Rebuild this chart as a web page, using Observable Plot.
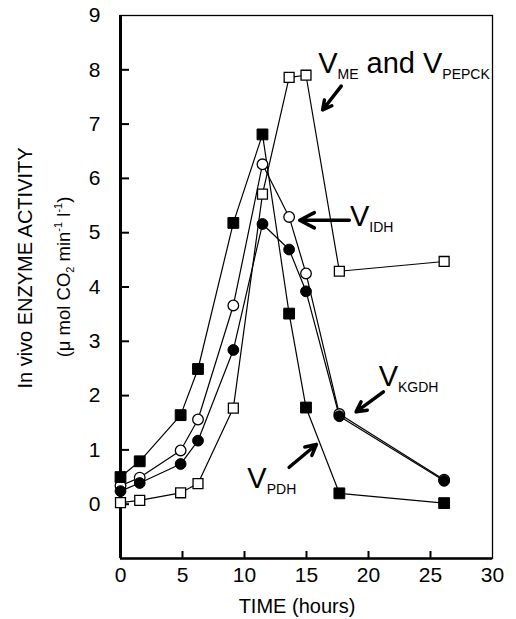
<!DOCTYPE html>
<html><head><meta charset="utf-8">
<script src="https://cdn.jsdelivr.net/npm/d3@7"></script>
<script src="https://cdn.jsdelivr.net/npm/@observablehq/plot@0.6"></script>
<style>
body{margin:0;background:#fff}
svg{font-family:"Liberation Sans",Arial,sans-serif}
</style>
</head><body><div id="chart"></div>
<script>
// ---- data ----
const times = [0, 1.55, 4.85, 6.25, 9.1, 11.45, 13.6, 14.96, 17.65, 26.1];
const vPDH  = [0.50, 0.79, 1.64, 2.49, 5.18, 6.81, 3.51, 1.78, 0.20, 0.02];
const vIDH  = [0.34, 0.49, 0.99, 1.56, 3.66, 6.26, 5.29, 4.25, 1.66, 0.45];
const vKGDH = [0.24, 0.39, 0.74, 1.17, 2.84, 5.16, 4.69, 3.92, 1.62, 0.43];
const vME   = [0.03, 0.07, 0.21, 0.38, 1.77, 5.71, 7.86, 7.90, 4.29, 4.47];
const seriesNames = ["PDH", "IDH", "KGDH", "ME"];
const xTickLabels = [0, 5, 10, 15, 20, 25, 30];
const xTickMarks = [5, 10, 15, 20, 25];
const yTickLabels = [0, 1, 2, 3, 4, 5, 6, 7, 8, 9];
const yTickMarks = [0, 1, 2, 3, 4, 5, 6, 7, 8];
const xLabel = "TIME (hours)";
const yLabel1 = "In vivo ENZYME ACTIVITY";

const allVals = {PDH: vPDH, IDH: vIDH, KGDH: vKGDH, ME: vME};
const rows = seriesNames.flatMap(s => times.map((t, i) => ({series: s, time: t, value: allVals[s][i]})));
const only = s => rows.filter(d => d.series === s);

// annotation arrows (data coordinates)
const arrows = [
  {x1: 17.8, y1: 7.70, x2: 16.3, y2: 7.26},
  {x1: 18.45, y1: 5.23, x2: 14.45, y2: 5.23},
  {x1: 21.2, y1: 2.07, x2: 19.0, y2: 1.70},
  {x1: 13.6, y1: 0.68, x2: 15.8, y2: 1.10}
];

const W = 516, H = 619, mL = 120, mR = 24, mT = 15, mB = 61;
const frameW = W - mL - mR, frameH = H - mT - mB;

const chart = Plot.plot({
  width: W, height: H,
  marginLeft: mL, marginRight: mR, marginTop: mT, marginBottom: mB,
  style: {fontFamily: '"Liberation Sans", Arial, sans-serif', fontSize: "21px", color: "black", background: "white"},
  x: {domain: [0, 30], label: null},
  y: {domain: [-1, 9], label: null},
  marks: [
    Plot.frame({stroke: "black", strokeWidth: 1.3}),
    Plot.ruleX([0], {stroke: "black", strokeWidth: 3}),
    Plot.ruleY([-1], {stroke: "black", strokeWidth: 2.6}),
    Plot.axisY(yTickLabels, {tickSize: 0, tickPadding: 20, fontSize: 21, tickFormat: d => String(d)}),
    Plot.axisX(xTickLabels, {tickSize: 0, tickPadding: 9, fontSize: 21, tickFormat: d => String(d)}),
    Plot.tickY(yTickMarks, {y: d => d, stroke: "black", strokeWidth: 2, insetRight: frameW - 9}),
    Plot.tickX(xTickMarks, {x: d => d, stroke: "black", strokeWidth: 2, insetTop: frameH - 7}),
    Plot.line(rows, {x: "time", y: "value", z: "series", stroke: "black", strokeWidth: 1.2}),
    Plot.dot(only("ME"), {x: "time", y: "value", symbol: "square", r: 5.6, fill: "white", stroke: "black", strokeWidth: 1.3}),
    Plot.dot(only("IDH"), {x: "time", y: "value", symbol: "circle", r: 5.3, fill: "white", stroke: "black", strokeWidth: 1.3}),
    Plot.dot(only("KGDH"), {x: "time", y: "value", symbol: "circle", r: 5.4, fill: "black", stroke: "black", strokeWidth: 1}),
    Plot.dot(only("PDH"), {x: "time", y: "value", symbol: "square", r: 6.1, fill: "black", stroke: "black", strokeWidth: 1}),
    Plot.arrow(arrows, {x1: "x1", y1: "y1", x2: "x2", y2: "y2", stroke: "black", strokeWidth: 3.5, headLength: 13, headAngle: 55})
  ]
});

document.getElementById("chart").appendChild(chart);

const sx = chart.scale("x"), sy = chart.scale("y");
const svg = d3.select(chart);

// x axis title
svg.append("text").attr("x", 297).attr("y", 613).attr("text-anchor", "middle")
  .attr("font-size", 20).text(xLabel);

// y axis title (two rotated lines)
svg.append("text").attr("transform", "translate(32,268) rotate(-90)")
  .attr("text-anchor", "middle").attr("font-size", 20).text(yLabel1);
const yl2 = svg.append("text").attr("transform", "translate(70,277) rotate(-90)")
  .attr("text-anchor", "middle").attr("font-size", 18.5);
yl2.append("tspan").text("(\u03bc mol CO");
yl2.append("tspan").attr("font-size", 11).attr("dy", 4).text("2");
yl2.append("tspan").attr("dy", -4).text(" min");
yl2.append("tspan").attr("font-size", 11).attr("dy", -8).text("-1");
yl2.append("tspan").attr("dy", 8).text(" l");
yl2.append("tspan").attr("font-size", 11).attr("dy", -8).text("-1");
yl2.append("tspan").attr("dy", 8).text(")");

// annotation labels: V with subscripts
function vLabel(x, y, parts) {
  const t = svg.append("text").attr("x", sx.apply(x)).attr("y", sy.apply(y))
    .attr("text-anchor", "start").attr("font-size", 29);
  let shifted = false;
  for (const [txt, sub] of parts) {
    const sp = t.append("tspan").text(txt);
    if (sub && !shifted) { sp.attr("font-size", 14).attr("dy", 6); shifted = true; }
    else if (sub) { sp.attr("font-size", 14); }
    else if (shifted) { sp.attr("dy", -6); shifted = false; }
  }
}
vLabel(15.98, 7.94, [["V", false], ["ME", true], [" and V", false], ["PEPCK", true]]);
vLabel(18.55, 5.11, [["V", false], ["IDH", true]]);
vLabel(20.86, 2.17, [["V", false], ["KGDH", true]]);
vLabel(10.27, 0.28, [["V", false], ["PDH", true]]);
</script>
</body></html>
